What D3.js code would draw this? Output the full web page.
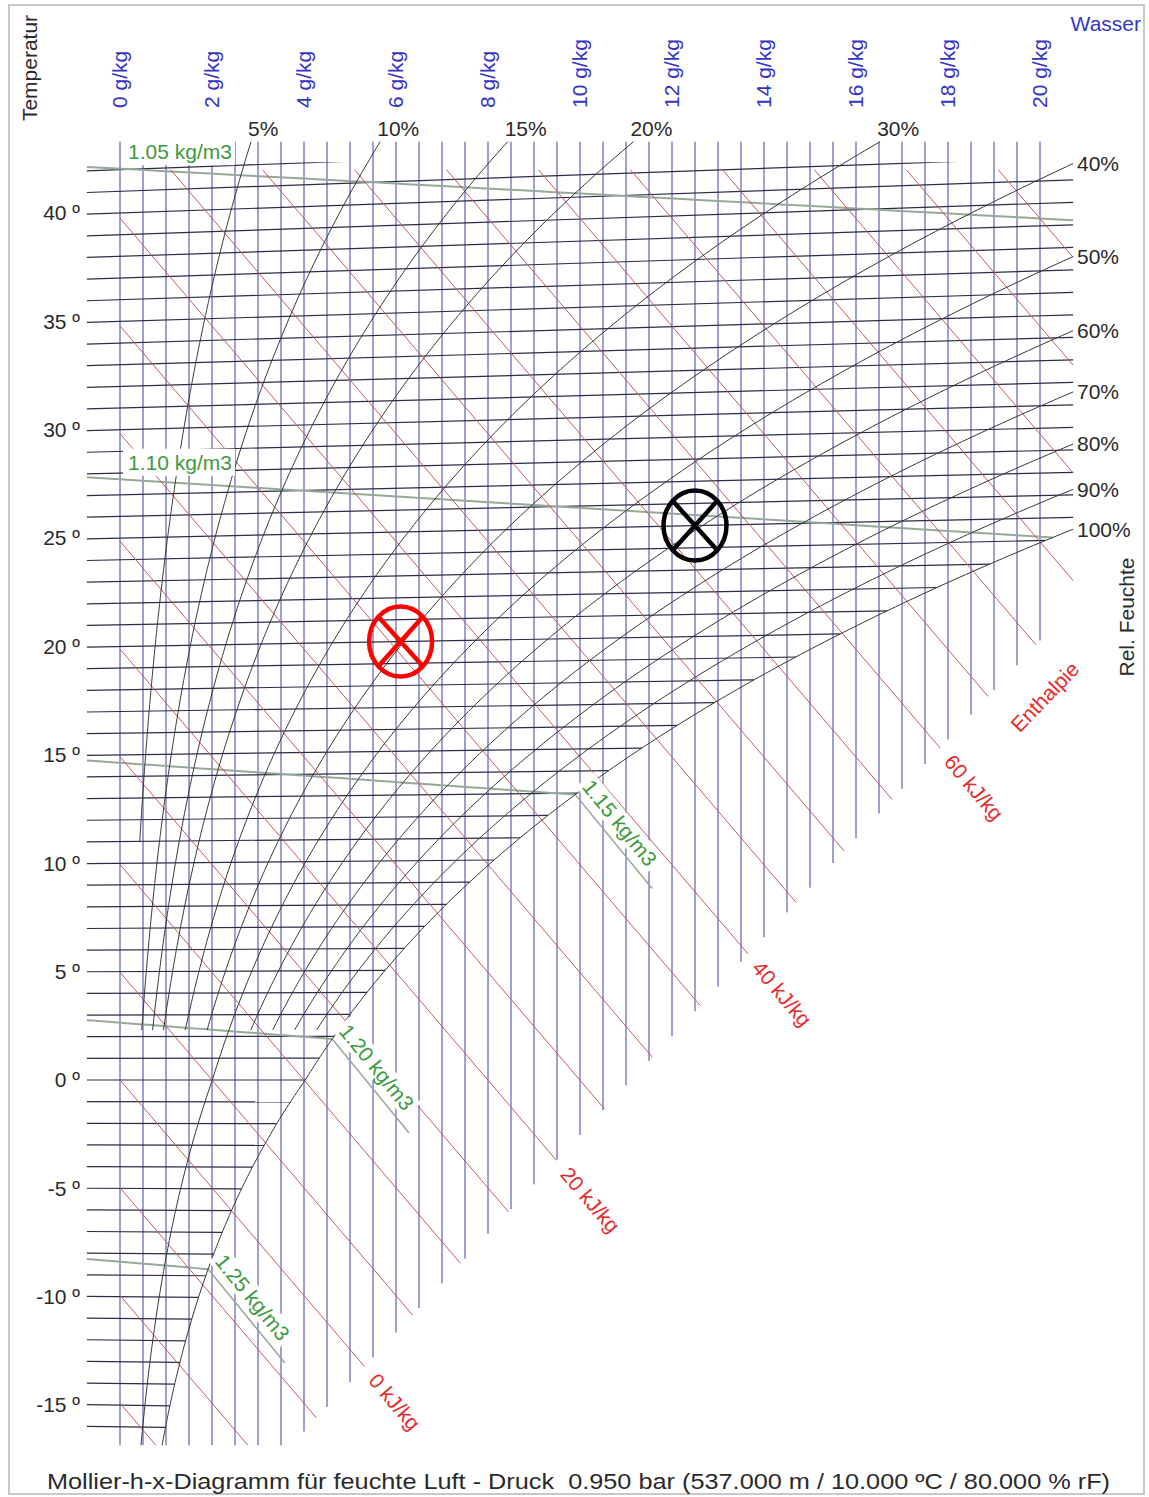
<!DOCTYPE html>
<html>
<head>
<meta charset="utf-8">
<script src="https://cdn.jsdelivr.net/npm/d3@7"></script>
<style>
  body { margin: 0; background: #fff; }
  svg { display: block; }
  text { font-family: "Liberation Sans", Arial, sans-serif; }
</style>
</head>
<body>
<script>
// ---------- chart parameters ----------
const pressureBar = 0.95;                                   // air pressure, bar
const temperatures = d3.range(-16, 43);                     // isotherms, °C
const temperatureTicks = [-15, -10, -5, 0, 5, 10, 15, 20, 25, 30, 35, 40];
const waterContents = d3.range(0, 20.5, 0.5);               // lines of constant x, g/kg
const waterTicks = [0, 2, 4, 6, 8, 10, 12, 14, 16, 18, 20];
const relHumidities = [5, 10, 15, 20, 30, 40, 50, 60, 70, 80, 90, 100]; // %
// lowest temperature each humidity curve is drawn down to (null: to the bottom edge)
const relHumidityLowestTemp = [11, 2.3, 2.3, 2.3, 2.3, 2.3, null, 2.3, 2.3, 2.3, 2.3, null];
const enthalpies = d3.range(-15, 95, 5);                    // kJ/kg
const enthalpyLabels = [0, 20, 40, 60];
const densities = [1.05, 1.10, 1.15, 1.20, 1.25];           // kg/m3
const statePoints = [
  { t: 20, x: 6.1, color: "#ff0000" },
  { t: 25, x: 12.5, color: "#000000" }
];
const titleText = "Mollier-h-x-Diagramm für feuchte Luft - Druck  0.950 bar (537.000 m / 10.000 ºC / 80.000 % rF)";

// ---------- psychrometrics ----------
const P = pressureBar * 100;          // kPa
const RL = 287.05;                    // gas constant dry air, J/(kg K)
function pSat(t) {                    // saturation pressure, kPa (water above 0 °C, ice below)
  return t >= 0 ? 0.6112 * Math.exp(17.62 * t / (243.12 + t))
                : 0.6112 * Math.exp(22.46 * t / (272.62 + t));
}
function xAt(t, phi) { const pv = phi * pSat(t); return 622 * pv / (P - pv); }   // g/kg
// vertical coordinate of the oblique Mollier chart: h - r0*x
function Yat(t, x) { return 1.006 * t + 0.00186 * t * x; }
function rhoT(rho, x) { return P * 1000 * (1 + x / 1000) / (rho * RL * (1 + 1.608 * x / 1000)) - 273.15; }
function bisect(pred, lo, hi) {
  for (let i = 0; i < 80; i++) { const m = (lo + hi) / 2; if (pred(m)) lo = m; else hi = m; }
  return (lo + hi) / 2;
}

// ---------- layout ----------
const W = 1149, H = 1497;
const xs = d3.scaleLinear().domain([0, 20]).range([120, 1040]);
const ys = d3.scaleLinear().domain([0, 1.006 * 40]).range([1080, 213]);
const X_MIN = -0.72, X_MAX = 20.72;
const Y_BOTTOM = -16.95, Y_TOP = 43.55, Y_TOP_ISO = 42.6, Y_TOP_H = 42.25;
const fogEdge = x => -25.5 + 2.295 * x;   // lower limit of the fog region

const C = {
  water: "#4040a8", iso: "#2c2c46", h: "#bf5c5c", rh: "#363636",
  rho: "#98a898", rhoText: "#3d9a3d", hText: "#e52b2b", text: "#2a2a2a", blue: "#3535c8"
};
const FS = 21;

const svg = d3.select("body").append("svg").attr("width", W).attr("height", H);
const defs = svg.append("defs");
defs.append("clipPath").attr("id", "clipIso").append("rect")
  .attr("x", 0).attr("y", ys(Y_TOP_ISO)).attr("width", W).attr("height", H);

svg.append("rect").attr("x", 9).attr("y", 5).attr("width", 1135).attr("height", 1489)
  .attr("fill", "#fff").attr("stroke", "#c8c8c8").attr("stroke-width", 2);

const line = d3.line().x(d => xs(d[0])).y(d => ys(d[1]));

// lines of constant water content (including the fog region)
svg.append("g").selectAll("line").data(waterContents).join("line")
  .attr("x1", d => xs(d)).attr("x2", d => xs(d))
  .attr("y1", ys(Y_TOP)).attr("y2", d => ys(Math.max(Y_BOTTOM, fogEdge(d))))
  .attr("stroke", C.water).attr("stroke-width", 1);

// isotherms
const isoEnd = t => Math.min(xAt(t, 1), X_MAX);
svg.append("g").attr("clip-path", "url(#clipIso)")
  .selectAll("line").data(temperatures).join("line")
  .attr("x1", xs(X_MIN)).attr("y1", t => ys(Yat(t, X_MIN)))
  .attr("x2", t => xs(isoEnd(t))).attr("y2", t => ys(Yat(t, isoEnd(t))))
  .attr("stroke", C.iso).attr("stroke-width", 1.2);

// density lines
const rhoLines = densities.map(rho => {
  const sat = xv => xv >= xAt(rhoT(rho, xv), 1);
  let xe = X_MAX;
  if (sat(X_MAX)) xe = bisect(xv => !sat(xv), X_MIN, X_MAX);
  const pts = d3.range(0, 41).map(i => {
    const xv = X_MIN + (xe - X_MIN) * i / 40;
    return [xv, Yat(rhoT(rho, xv), xv)];
  });
  // lines that stay unsaturated across the water-content scale are labelled at the left edge
  return { rho, pts, inFog: xe < waterTicks[waterTicks.length - 1], end: pts[pts.length - 1] };
});
const gRho = svg.append("g");
gRho.selectAll("path").data(rhoLines).join("path")
  .attr("d", d => line(d.pts)).attr("fill", "none")
  .attr("stroke", C.rho).attr("stroke-width", 2);
// continuation into the fog region
const leader = { dx: 1.67, dY: -4.36 };
const fogRho = rhoLines.filter(d => d.inFog);
gRho.selectAll("line").data(fogRho).join("line")
  .attr("x1", d => xs(d.end[0])).attr("y1", d => ys(d.end[1]))
  .attr("x2", d => xs(d.end[0] + leader.dx)).attr("y2", d => ys(d.end[1] + leader.dY))
  .attr("stroke", C.rho).attr("stroke-width", 1.5);

// enthalpy lines
const hLines = enthalpies.map(h => {
  const x0 = Math.max(0, (h - Y_TOP_H) / 2.501);
  const x1 = (h - Y_BOTTOM) / 2.501;
  const x2 = (h + 25.5) / (2.501 + 2.295);
  const xe = Math.min(x1, x2, X_MAX);
  return { h, a: [x0, h - 2.501 * x0], b: [xe, h - 2.501 * xe], ok: x0 < xe };
}).filter(d => d.ok);
svg.append("g").selectAll("line").data(hLines).join("line")
  .attr("x1", d => xs(d.a[0])).attr("y1", d => ys(d.a[1]))
  .attr("x2", d => xs(d.b[0])).attr("y2", d => ys(d.b[1]))
  .attr("stroke", C.h).attr("stroke-width", 1);

// relative humidity curves
const rhCurves = relHumidities.map((p, i) => {
  const phi = p / 100;
  const tLow = relHumidityLowestTemp[i] === null ? -60 : relHumidityLowestTemp[i];
  const pt = t => { const xv = xAt(t, phi); return [xv, Yat(t, xv)]; };
  const below = t => t < tLow || pt(t)[1] < Y_BOTTOM;
  const inside = t => { const q = pt(t); return q[0] <= X_MAX && q[1] <= Y_TOP; };
  const t0 = bisect(below, -40, 70), t1 = bisect(inside, -40, 70);
  const pts = d3.range(0, 301).map(k => pt(t0 + (t1 - t0) * k / 300));
  const end = pts[pts.length - 1];
  return { p, pts, end, top: Math.abs(end[1] - Y_TOP) < 0.02 };
});
svg.append("g").selectAll("path").data(rhCurves).join("path")
  .attr("d", d => line(d.pts)).attr("fill", "none")
  .attr("stroke", C.rh).attr("stroke-width", 1);

// ---------- labels ----------
const gLab = svg.append("g").attr("font-size", FS);

// humidity labels
gLab.selectAll("text.rh").data(rhCurves).join("text")
  .attr("x", d => d.top ? xs(d.end[0]) - 3 : 1077)
  .attr("y", d => d.top ? ys(Y_TOP) - 6 : ys(d.end[1]))
  .attr("dy", d => d.top ? 0 : "0.35em")
  .attr("fill", C.text).text(d => d.p + "%");

// density labels: at the left edge, or along the fog continuation
rhoLines.forEach(d => {
  const g = gLab.append("g");
  const box = g.append("rect").attr("fill", "#fff");
  const txt = g.append("text").attr("fill", C.rhoText).text(d3.format(".2f")(d.rho) + " kg/m3");
  if (!d.inFog) {
    const y0 = ys(Yat(rhoT(d.rho, 0), 0));
    txt.attr("x", xs(0) + 8).attr("y", y0 - 9.5);
    const bb = txt.node().getBBox();
    box.attr("x", bb.x - 5).attr("y", bb.y - 2).attr("width", bb.width + 8).attr("height", bb.height + 4);
  } else {
    const p0 = [xs(d.end[0]), ys(d.end[1])];
    const p1 = [xs(d.end[0] + leader.dx), ys(d.end[1] + leader.dY)];
    const ang = Math.atan2(p1[1] - p0[1], p1[0] - p0[0]);
    const c = [p0[0] + Math.cos(ang) * 50 + Math.sin(ang) * 16.5, p0[1] + Math.sin(ang) * 50 - Math.cos(ang) * 16.5];
    g.attr("transform", `translate(${c[0]},${c[1]}) rotate(${ang * 180 / Math.PI})`);
    txt.attr("text-anchor", "middle").attr("dy", "0.35em");
    const bb = txt.node().getBBox();
    box.attr("x", bb.x - 4).attr("y", bb.y).attr("width", bb.width + 8).attr("height", bb.height);
  }
});

// enthalpy labels
hLines.filter(d => enthalpyLabels.includes(d.h)).forEach(d => {
  const p0 = [xs(d.b[0]), ys(d.b[1])];
  const ang = Math.atan2(2.501 * (ys(0) - ys(1)), xs(1) - xs(0));
  const g = gLab.append("g")
    .attr("transform", `translate(${p0[0]},${p0[1]}) rotate(${ang * 180 / Math.PI})`);
  g.append("text").attr("x", 13).attr("dy", "0.35em").attr("fill", C.hText).text(d.h + " kJ/kg");
});
{
  const d = hLines.find(e => e.h === 70);
  gLab.append("text")
    .attr("transform", `translate(${xs(d.b[0]) + 9},${ys(d.b[1]) + 52}) rotate(-46)`)
    .attr("text-anchor", "middle").attr("dy", "0.35em").attr("fill", C.hText).text("Enthalpie");
}

// temperature axis
gLab.selectAll("text.t").data(temperatureTicks).join("text")
  .attr("x", 80).attr("y", t => ys(Yat(t, 0))).attr("dy", "0.35em")
  .attr("text-anchor", "end").attr("fill", C.text).text(t => t + " º");

// water content axis
gLab.selectAll("text.w").data(waterTicks).join("text")
  .attr("transform", w => `translate(${xs(w) + 7},108) rotate(-90)`)
  .attr("fill", C.blue).text(w => w + " g/kg");

gLab.append("text").attr("transform", "translate(37,68) rotate(-90)")
  .attr("text-anchor", "middle").attr("fill", C.text).text("Temperatur");
gLab.append("text").attr("x", 1141).attr("y", 31).attr("text-anchor", "end")
  .attr("fill", C.blue).text("Wasser");
gLab.append("text").attr("transform", "translate(1134,617) rotate(-90)")
  .attr("text-anchor", "middle").attr("fill", C.text).text("Rel. Feuchte");

gLab.append("text").attr("x", 47).attr("y", 1489).attr("fill", C.text)
  .attr("font-size", 22).attr("textLength", 1063).attr("lengthAdjust", "spacingAndGlyphs")
  .style("white-space", "pre").text(titleText);

// state points
const gPts = svg.append("g").selectAll("g").data(statePoints).join("g")
  .attr("transform", d => `translate(${xs(d.x)},${ys(Yat(d.t, d.x))})`);
const rx = 31.5, ry = 35;
gPts.append("ellipse").attr("rx", rx).attr("ry", ry).attr("fill", "none")
  .attr("stroke", d => d.color).attr("stroke-width", 4.5);
gPts.append("path").attr("fill", "none").attr("stroke", d => d.color).attr("stroke-width", 4.5)
  .attr("d", `M${-rx * 0.7071},${-ry * 0.7071}L${rx * 0.7071},${ry * 0.7071}M${rx * 0.7071},${-ry * 0.7071}L${-rx * 0.7071},${ry * 0.7071}`);
</script>
</body>
</html>
